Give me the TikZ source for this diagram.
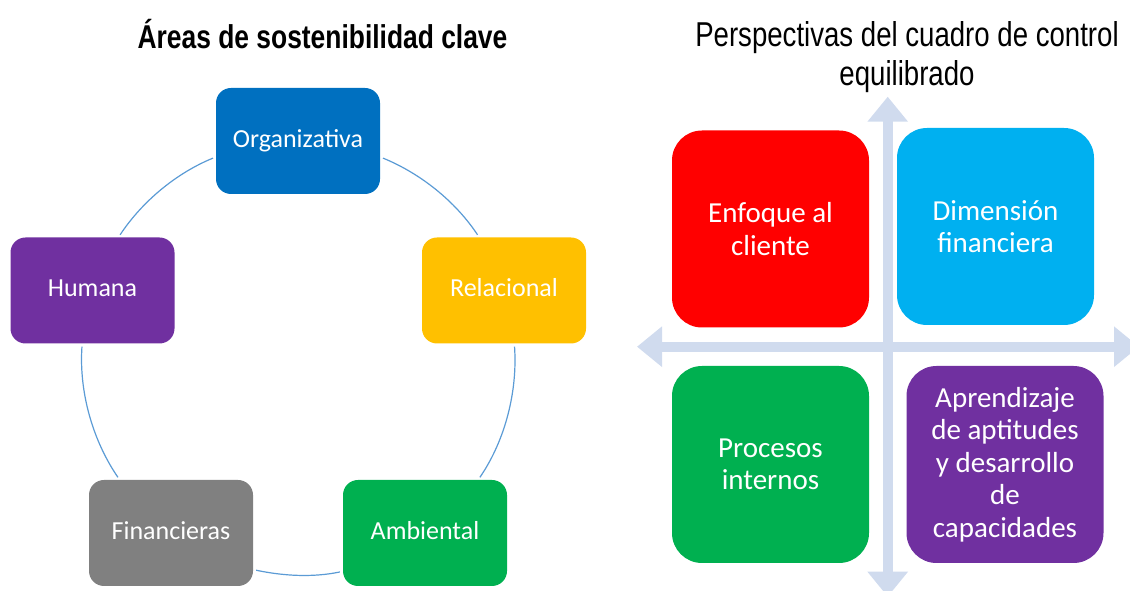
\documentclass[tikz,border=0pt]{standalone}
\usepackage{fontspec}
\setmainfont{Carlito}
\newfontfamily\titlefont[FakeStretch=0.8]{Liberation Sans}
\usetikzlibrary{positioning,arrows.meta}

\definecolor{orgblue}{HTML}{0070C0}
\definecolor{relgold}{HTML}{FFC000}
\definecolor{envgreen}{HTML}{00B050}
\definecolor{fingray}{HTML}{808080}
\definecolor{humpurple}{HTML}{7030A0}
\definecolor{custred}{HTML}{FF0000}
\definecolor{fincyan}{HTML}{00B0F0}
\definecolor{ringblue}{HTML}{5B9BD5}
\definecolor{axisblue}{HTML}{D0DBEE}

\tikzset{
  cyclebox/.style={rectangle, rounded corners=15pt, minimum width=164pt, minimum height=106pt,
    inner sep=0pt, text=white, font=\fontsize{26}{31}\selectfont, text height=19.5pt, text depth=6.5pt},
  quadbox/.style={rectangle, rounded corners=30pt, minimum width=197pt, minimum height=197pt,
    inner sep=0pt, text=white, align=center, font=\fontsize{29}{32.5}\selectfont},
  titletext/.style={anchor=base, align=center, font=\titlefont\fontsize{33}{39}\selectfont},
  ring/.style={draw=ringblue, line width=1.2pt, looseness=0.87, shorten <=3pt, shorten >=3pt},
  axis/.style={draw=axisblue, line width=10pt,
    {Triangle[width=39pt,length=25pt]}-{Triangle[width=39pt,length=25pt]}}
}

\begin{document}
\begin{tikzpicture}[x=1pt,y=1pt]
    \useasboundingbox (0,0) rectangle (1130,591);
    \clip (0,0) rectangle (1130,591);

    % titles
    \node[titletext] (lefttitle) at (322.5,542) {\bfseries Áreas de sostenibilidad clave};
    \node[titletext, font=\titlefont\fontsize{34.5}{39}\selectfont] (righttitle) at (907,505)
      {Perspectivas del cuadro de control\\equilibrado};

    % sustainability ring
    \node[cyclebox, fill=orgblue] (org) at (298,450) {Organizativa};
    \node[cyclebox, fill=relgold] (rel) at (504,300.5) {Relacional};
    \node[cyclebox, fill=envgreen] (amb) at (425,58) {Ambiental};
    \node[cyclebox, fill=fingray] (fin) at (171,58) {Financieras};
    \node[cyclebox, fill=humpurple] (hum) at (92.5,300.5) {Humana};

    \draw[ring] (org.-11.1) to[out=-22.2, in=123.5] (rel.115.8);
    \draw[ring] (rel.-79) to[out=-86.1, in=55.6] (amb.45.6);
    \draw[ring] (amb.-155.9) to[out=-168, in=-12] (fin.-24.1);
    \draw[ring] (fin.134.4) to[out=124.4, in=266.1] (hum.-101.5);
    \draw[ring] (hum.64.6) to[out=56.5, in=202.2] (org.191.1);

    % balanced scorecard quadrants
    \draw[axis] (637,244.3) -- (1139,244.3);
    \draw[axis] (887.7,494.3) -- (887.7,-5.7);

    \node[quadbox, fill=custred] (cli) at (770.5,362) {Enfoque al\\cliente};
    \node[quadbox, fill=fincyan] (dim) at (995.5,364.5) {Dimensión\\financiera};
    \node[quadbox, fill=envgreen] (pro) at (770.5,126.5) {Procesos\\internos};
    \node[quadbox, fill=humpurple] (apr) at (1005,126.5) {Aprendizaje\\de aptitudes\\y desarrollo\\de\\capacidades};
\end{tikzpicture}
\end{document}
